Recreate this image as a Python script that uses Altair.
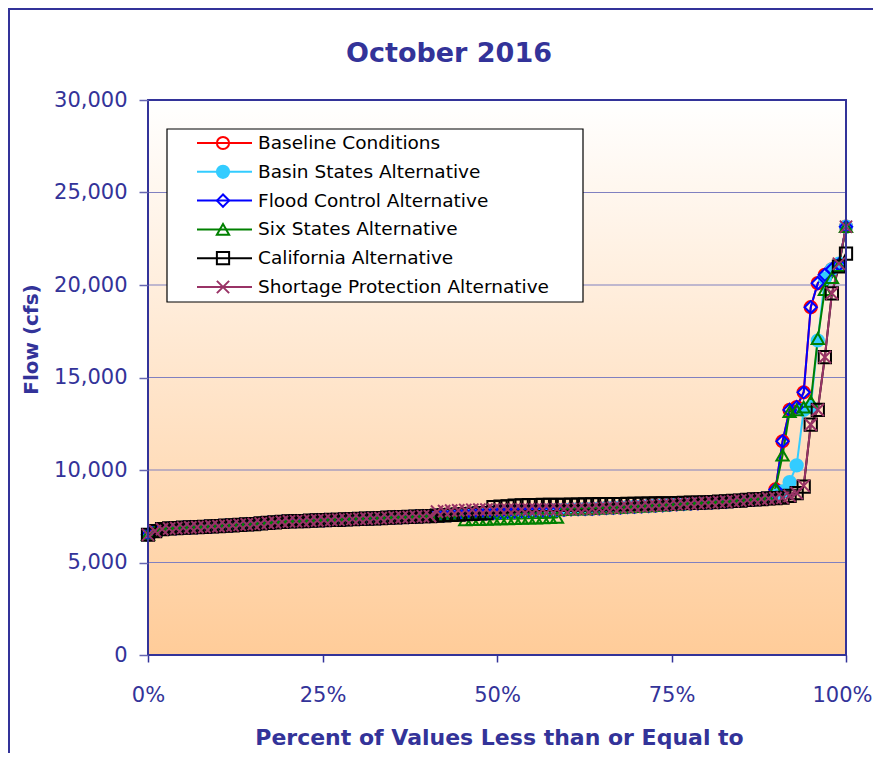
import altair as alt
import pandas as pd

# ---------------- data ----------------
series_names = [
    "Baseline Conditions",
    "Basin States Alternative",
    "Flood Control Alternative",
    "Six States Alternative",
    "California Alternative",
    "Shortage Protection Alternative",
]
series_colors = ["#ff0000", "#33ccff", "#0000ff", "#008000", "#000000", "#993366"]
series_shapes = ["circle", "circle", "diamond", "triangle-up", "square",
                 "M-1,-1L1,1M-1,1L1,-1"]
series_fills = ["transparent", "#33ccff", "transparent", "transparent",
                "transparent", "transparent"]

# flow (cfs) read along the common lower band, points 0..85
low_common = [
    6500, 6700, 6800, 6840, 6860, 6880, 6900, 6910, 6930, 6950,
    6970, 6990, 7010, 7040, 7060, 7080, 7110, 7140, 7170, 7200,
    7220, 7230, 7240, 7260, 7280, 7290, 7300, 7310, 7330, 7350,
    7360, 7370, 7390, 7400, 7420, 7440, 7450, 7460, 7480, 7500,
    7510, 7530, 7550, 7570, 7590, 7610, 7630, 7650, 7670, 7690,
    7720, 7740, 7760, 7780, 7800, 7820, 7830, 7840, 7850, 7860,
    7880, 7890, 7900, 7910, 7930, 7950, 7960, 7980, 8000, 8020,
    8040, 8060, 8080, 8100, 8120, 8150, 8170, 8190, 8210, 8230,
    8250, 8270, 8290, 8320, 8350, 8380,
]
# Six States dips below the band between points 45 and 58
six_mid = [7300, 7310, 7320, 7330, 7340, 7350, 7360, 7370, 7380, 7390,
           7400, 7410, 7420, 7430]
# California sits above the band from point 49 to 85
cal_mid = [8000, 8020, 8040, 8080, 8090, 8100, 8100, 8110, 8110, 8120,
           8120, 8130, 8130, 8140, 8140, 8150, 8150, 8160, 8160, 8170,
           8170, 8180, 8180, 8190, 8190, 8200, 8210, 8220, 8230, 8240,
           8250, 8270, 8290, 8310, 8330, 8350, 8380]
# Shortage Protection above the band from point 41 to 59
sp_mid = [7750, 7780, 7800, 7820, 7840, 7850, 7860, 7860, 7860, 7865,
          7865, 7870, 7870, 7870, 7875, 7875, 7875, 7880, 7880]

# upper tails, points 86..99
tail_baseline = [8410, 8440, 8480, 8950, 11550, 13250, 13400, 14200, 18800,
                 20100, 20550, 20850, 21100, 23150]
tail_basin = [8410, 8440, 8480, 8600, 8850, 9350, 10250, 13250, 13400,
              17000, 20350, 20850, 21150, 23150]
tail_flood = [8410, 8440, 8480, 8950, 11550, 13250, 13400, 14200, 18800,
              20100, 20550, 20850, 21100, 23150]
tail_six = [8410, 8440, 8480, 9000, 10800, 13150, 13250, 13400, 13700,
            17100, 19750, 20400, 21050, 23150]
tail_cal = [8410, 8430, 8460, 8480, 8500, 8600, 8750, 9100, 12450,
            13250, 16100, 19550, 21000, 21700]
tail_sp = [8410, 8430, 8460, 8480, 8500, 8600, 8750, 9150, 12450,
           13250, 16100, 19550, 21150, 23150]

flows = {
    series_names[0]: low_common + tail_baseline,
    series_names[1]: low_common + tail_basin,
    series_names[2]: low_common + tail_flood,
    series_names[3]: low_common[:45] + six_mid + low_common[59:] + tail_six,
    series_names[4]: low_common[:49] + cal_mid + tail_cal,
    series_names[5]: low_common[:41] + sp_mid + low_common[60:] + tail_sp,
}

grid_values = [5000, 10000, 15000, 20000, 25000]
x_ticks = [0, 25, 50, 75, 100]
y_ticks = [0, 5000, 10000, 15000, 20000, 25000, 30000]
title_text = "October 2016"
x_title = "Percent of Values Less than or Equal to"
y_title = "Flow (cfs)"

rows = []
for name in series_names:
    vals = flows[name]
    n = len(vals)
    for i, v in enumerate(vals):
        rows.append({"series": name, "pct": i * 100.0 / (n - 1), "flow": v, "i": i})
df = pd.DataFrame(rows)
leg_df = pd.DataFrame({"series": series_names, "row": list(range(len(series_names)))})
grid_df = pd.DataFrame({"g": grid_values})
one = pd.DataFrame({"a": [0]})

# ---------------- styling ----------------
W, H = 698, 555
NAVY = "#333399"
FONT = "DejaVu Sans"
MSIZE = 150
MSTROKE = 2

x_scale = alt.Scale(domain=[0, 100], nice=False, zero=False)
y_scale = alt.Scale(domain=[0, 30000], nice=False)
color_scale = alt.Scale(domain=series_names, range=series_colors)
shape_scale = alt.Scale(domain=series_names, range=series_shapes)
fill_scale = alt.Scale(domain=series_names, range=series_fills)

x_axis = alt.Axis(
    values=x_ticks, labelExpr="datum.value + '%'", grid=False, domain=False,
    tickSize=7, tickColor=NAVY, tickWidth=1.5, labelPadding=22, labelFlush=False,
    labelOffset={"condition": {"test": "datum.value == 100", "value": -4}, "value": 0},
    labelFont=FONT, labelFontSize=21, labelColor=NAVY,
    title=x_title, titleFont=FONT, titleFontSize=22, titleFontWeight="bold",
    titleColor=NAVY, titleX=351, titleY=82, titleBaseline="middle",
    titleAlign="center", zindex=1,
)
y_axis = alt.Axis(
    values=y_ticks, labelExpr="format(datum.value, ',')", grid=False, domain=False,
    tickSize=9, tickColor="#6666b0", tickWidth=1.5, labelPadding=12,
    labelFont=FONT, labelFontSize=21, labelColor=NAVY,
    title=y_title, titleFont=FONT, titleFontSize=20, titleFontWeight="bold",
    titleColor=NAVY, titleX=-117, titleY=239, titleBaseline="middle",
    titleAlign="center", zindex=1,
)

bg = alt.Chart(one).mark_rect(
    fill=alt.Gradient(
        gradient="linear",
        stops=[alt.GradientStop(color="#ffffff", offset=0),
               alt.GradientStop(color="#ffcc99", offset=1)],
        x1=0, x2=0, y1=0, y2=1,
    )
).encode(x=alt.value(0), x2=alt.value(W), y=alt.value(0), y2=alt.value(H))

grid = alt.Chart(grid_df).mark_rule(color="#8080c0", strokeWidth=1.2).encode(
    y=alt.Y("g:Q", scale=y_scale, axis=y_axis),
    x=alt.value(0), x2=alt.value(W),
)

lines = alt.Chart(df).mark_line(strokeWidth=2).encode(
    x=alt.X("pct:Q", scale=x_scale, axis=x_axis),
    y=alt.Y("flow:Q", scale=y_scale, axis=y_axis),
    color=alt.Color("series:N", scale=color_scale, legend=None),
    order=alt.Order("i:Q"),
)

points = alt.Chart(df).mark_point(size=MSIZE, strokeWidth=MSTROKE, opacity=1).encode(
    x=alt.X("pct:Q", scale=x_scale, axis=x_axis),
    y=alt.Y("flow:Q", scale=y_scale, axis=y_axis),
    stroke=alt.Stroke("series:N", scale=color_scale, legend=None),
    fill=alt.Fill("series:N", scale=fill_scale, legend=None),
    shape=alt.Shape("series:N", scale=shape_scale, legend=None),
)

data_layer = alt.layer(bg, grid, lines, points)

leg_y = alt.Y("row:Q", scale=alt.Scale(domain=[0, 5], range=[43, 187]), axis=None)

plot_border = alt.Chart(one).mark_rect(filled=False, stroke=NAVY, strokeWidth=2).encode(
    x=alt.value(0), x2=alt.value(W), y=alt.value(0), y2=alt.value(H))
outer_frame = alt.Chart(one).mark_rect(filled=False, stroke=NAVY, strokeWidth=2).encode(
    x=alt.value(-139), x2=alt.value(W + 300), y=alt.value(-91), y2=alt.value(H + 400))
leg_box = alt.Chart(one).mark_rect(fill="white", stroke="black", strokeWidth=1.2).encode(
    x=alt.value(19), x2=alt.value(435), y=alt.value(29), y2=alt.value(202))
leg_rule = alt.Chart(leg_df).mark_rule(strokeWidth=2).encode(
    x=alt.value(49), x2=alt.value(104), y=leg_y,
    color=alt.Color("series:N", scale=color_scale, legend=None))
leg_point = alt.Chart(leg_df).mark_point(size=MSIZE, strokeWidth=MSTROKE, opacity=1).encode(
    x=alt.value(75), y=leg_y,
    stroke=alt.Stroke("series:N", scale=color_scale, legend=None),
    fill=alt.Fill("series:N", scale=fill_scale, legend=None),
    shape=alt.Shape("series:N", scale=shape_scale, legend=None))
leg_text = alt.Chart(leg_df).mark_text(
    align="left", baseline="middle", font=FONT, fontSize=18.5, color="black"
).encode(x=alt.value(110), y=leg_y, text="series:N")
title_mark = alt.Chart(one).mark_text(
    align="center", baseline="alphabetic", font=FONT, fontSize=27,
    fontWeight="bold", color=NAVY, text=title_text,
).encode(x=alt.value(301), y=alt.value(-38))

legend_layer = alt.layer(plot_border, outer_frame, leg_box, leg_rule, leg_point,
                         leg_text, title_mark)

chart = alt.layer(data_layer, legend_layer).resolve_scale(y="independent").properties(
    width=W, height=H,
    padding={"left": 140, "top": 92, "right": 27, "bottom": 98},
    autosize=alt.AutoSizeParams(type="none"),
    background="white",
).configure_view(strokeWidth=0)

chart.save("out.html", embed_options={"renderer": "svg", "actions": False})
